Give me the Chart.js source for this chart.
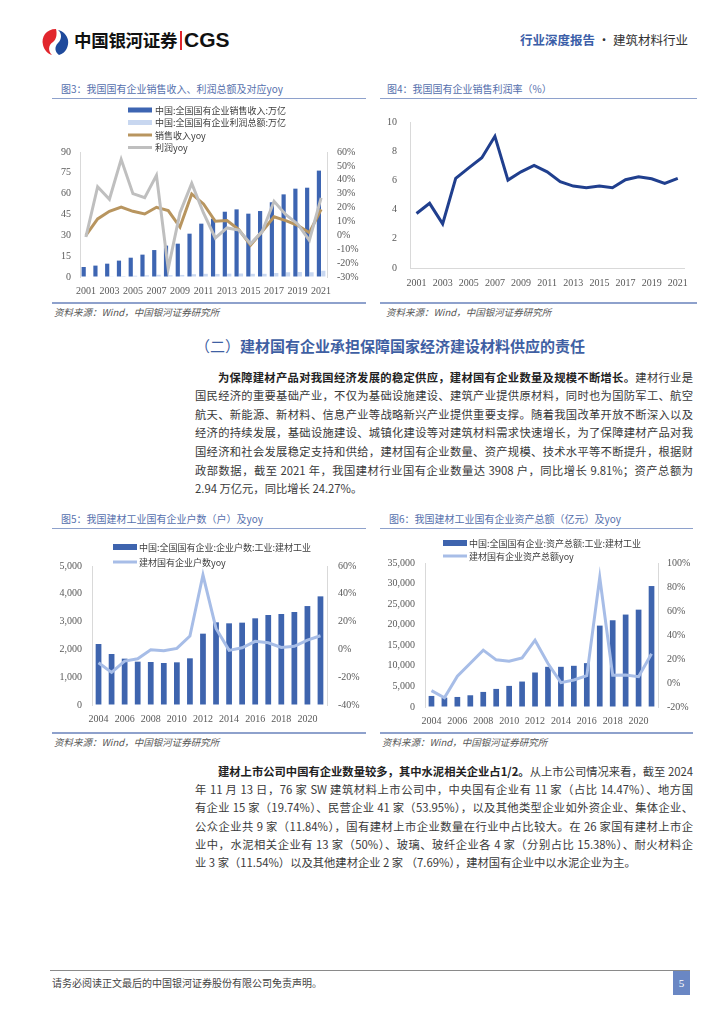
<!DOCTYPE html>
<html lang="zh-CN">
<head>
<meta charset="utf-8">
<script src="https://cdn.jsdelivr.net/npm/chart.js@4/dist/chart.umd.min.js"></script>
<style>
  html,body{margin:0;padding:0;background:#fff;}
  body{width:724px;height:1024px;position:relative;overflow:hidden;font-family:"Noto Sans CJK SC","Noto Sans",sans-serif;color:#333;}
  .abs{position:absolute;}
  .ptitle{position:absolute;font-size:10px;color:#5570ad;white-space:nowrap;line-height:12px;}
  .rule{position:absolute;background:#8ea1cc;}
  .src{position:absolute;font-size:9.5px;font-style:italic;color:#555;white-space:nowrap;line-height:12px;}
  .ln{position:absolute;left:195px;width:498px;font-size:11.3px;line-height:14px;text-align:justify;text-align-last:justify;color:#3a3a3a;}
  .ln.last{text-align-last:left;}
  .ln b{color:#222;font-weight:700;}
  canvas{position:absolute;}
</style>
</head>
<body>
<!-- header -->
<svg class="abs" style="left:40px;top:27px" width="30" height="30" viewBox="0 0 30 30">
  <path d="M16 2 C6 2 1 10 3 18 C4 23 8 27 12 28 C8 24 8 18 13 15 C17 12 17 6 16 2 Z" fill="#e1262d"/>
  <path d="M18 3 C22 6 22 12 18 16 C14 20 15 25 19 28 C26 26 29 19 28 13 C27 8 23 4 18 3 Z" fill="#1f4a9c"/>
</svg>
<div class="abs" style="left:74px;top:29px;font-size:17.5px;font-weight:700;color:#111;line-height:22px;letter-spacing:-0.3px;">中国银河证券</div>
<div class="abs" style="left:180px;top:31px;width:1.5px;height:19px;background:#e1262d;"></div>
<div class="abs" style="left:184px;top:28px;font-family:'Liberation Sans',Arial,sans-serif;font-size:21px;font-weight:700;color:#111;line-height:24px;">CGS</div>
<div class="abs" style="left:520px;top:32px;font-size:12.5px;line-height:16px;white-space:nowrap;"><span style="color:#3b5ea8;font-weight:700;">行业深度报告</span><span style="color:#333;"> · 建筑材料行业</span></div>

<!-- panel titles and rules (top row) -->
<div class="ptitle" style="left:61px;top:83px;">图3：我国国有企业销售收入、利润总额及对应yoy</div>
<div class="rule" style="left:52px;top:98px;width:314px;height:1px;"></div>
<div class="rule" style="left:52px;top:302px;width:314px;height:2px;"></div>
<div class="src" style="left:54px;top:306px;">资料来源：Wind，中国银河证券研究所</div>

<div class="ptitle" style="left:387px;top:83px;">图4：我国国有企业销售利润率（%）</div>
<div class="rule" style="left:380px;top:98px;width:317px;height:1px;"></div>
<div class="rule" style="left:380px;top:302px;width:317px;height:2px;"></div>
<div class="src" style="left:386px;top:306px;">资料来源：Wind，中国银河证券研究所</div>

<!-- section heading -->
<div class="abs" style="left:195px;top:336px;font-size:15px;line-height:20px;color:#3f5fa3;font-weight:700;white-space:nowrap;"><span style="font-weight:400;">（二）</span>建材国有企业承担保障国家经济建设材料供应的责任</div>

<!-- paragraph 1 -->
<div class="ln" style="top:370px;text-indent:23px;"><b>为保障建材产品对我国经济发展的稳定供应，建材国有企业数量及规模不断增长。</b>建材行业是</div>
<div class="ln" style="top:388px;">国民经济的重要基础产业，不仅为基础设施建设、建筑产业提供原材料，同时也为国防军工、航空</div>
<div class="ln" style="top:407px;">航天、新能源、新材料、信息产业等战略新兴产业提供重要支撑。随着我国改革开放不断深入以及</div>
<div class="ln" style="top:425px;">经济的持续发展，基础设施建设、城镇化建设等对建筑材料需求快速增长，为了保障建材产品对我</div>
<div class="ln" style="top:444px;">国经济和社会发展稳定支持和供给，建材国有企业数量、资产规模、技术水平等不断提升，根据财</div>
<div class="ln" style="top:463px;">政部数据，截至 2021 年，我国建材行业国有企业数量达 3908 户，同比增长 9.81%；资产总额为</div>
<div class="ln last" style="top:481px;">2.94 万亿元，同比增长 24.27%。</div>

<!-- panel titles bottom row -->
<div class="ptitle" style="left:61px;top:513px;">图5：我国建材工业国有企业户数（户）及yoy</div>
<div class="rule" style="left:52px;top:528px;width:314px;height:1px;"></div>
<div class="rule" style="left:52px;top:732px;width:314px;height:2px;"></div>
<div class="src" style="left:54px;top:736px;">资料来源：Wind，中国银河证券研究所</div>

<div class="ptitle" style="left:389px;top:513px;">图6：我国建材工业国有企业资产总额（亿元）及yoy</div>
<div class="rule" style="left:380px;top:528px;width:313px;height:1px;"></div>
<div class="rule" style="left:380px;top:732px;width:313px;height:2px;"></div>
<div class="src" style="left:382px;top:736px;">资料来源：Wind，中国银河证券研究所</div>

<!-- paragraph 2 -->
<div class="ln" style="top:764px;text-indent:23px;"><b>建材上市公司中国有企业数量较多，其中水泥相关企业占1/2。</b>从上市公司情况来看，截至 2024</div>
<div class="ln" style="top:782px;">年 11 月 13 日，76 家 SW 建筑材料上市公司中，中央国有企业有 11 家（占比 14.47%）、地方国</div>
<div class="ln" style="top:800px;">有企业 15 家（19.74%）、民营企业 41 家（53.95%），以及其他类型企业如外资企业、集体企业、</div>
<div class="ln" style="top:819px;">公众企业共 9 家（11.84%），国有建材上市企业数量在行业中占比较大。在 26 家国有建材上市企</div>
<div class="ln" style="top:837px;">业中，水泥相关企业有 13 家（50%）、玻璃、玻纤企业各 4 家（分别占比 15.38%）、耐火材料企</div>
<div class="ln last" style="top:855px;">业 3 家（11.54%）以及其他建材企业 2 家 （7.69%），建材国有企业中以水泥企业为主。</div>

<!-- footer -->
<div class="abs" style="left:50px;top:970px;width:640px;height:1px;background:#8a8a8a;"></div>
<div class="abs" style="left:52px;top:976px;font-size:10px;line-height:14px;color:#444;white-space:nowrap;">请务必阅读正文最后的中国银河证券股份有限公司免责声明。</div>
<div class="abs" style="left:673px;top:971px;width:17px;height:24px;background:#6a87c4;color:#fff;font-family:'Liberation Serif',serif;font-size:11px;line-height:24px;text-align:center;">5</div>

<canvas id="c3" width="318" height="200" style="left:50px;top:100px;"></canvas>
<canvas id="c4" width="315" height="200" style="left:382px;top:100px;"></canvas>
<canvas id="c5" width="318" height="200" style="left:50px;top:530px;"></canvas>
<canvas id="c6" width="319" height="200" style="left:378px;top:530px;"></canvas>

<script>
// ---------------- data ----------------
const years3 = ['2001','2002','2003','2004','2005','2006','2007','2008','2009','2010','2011','2012','2013','2014','2015','2016','2017','2018','2019','2020','2021'];
const salesRevenue = [7.2, 8.2, 9.6, 11.8, 13.9, 16.1, 19.4, 22.6, 24.0, 31.2, 38.4, 42.0, 47.0, 48.7, 45.6, 47.5, 53.8, 59.5, 63.6, 64.3, 76.6];
const totalProfit = [0.3, 0.4, 0.5, 0.7, 0.9, 1.2, 1.6, 1.3, 1.5, 2.0, 2.3, 2.2, 2.4, 2.5, 2.3, 2.3, 2.9, 3.4, 3.6, 3.4, 4.5];
const salesYoy = [0, 11.8, 17.3, 20.4, 17.3, 15.4, 20.2, 17.8, 6.0, 29.8, 22.6, 10.1, 10.6, 4.1, -7.0, 2.9, 13.4, 10.6, 7.2, 1.9, 18.7];
const profitYoy = [-1.2, 35.0, 26.0, 54.7, 30.0, 27.1, 43.2, -24.0, 16.3, 37.4, 16.1, -1.9, 5.3, 3.8, -6.0, 2.9, 24.5, 14.9, 8.2, -3.6, 26.9];
const profitMargin = [3.73, 4.43, 3.02, 6.14, 6.86, 7.55, 9.02, 6.02, 6.59, 7.02, 6.59, 5.91, 5.61, 5.50, 5.61, 5.50, 6.05, 6.25, 6.11, 5.80, 6.14];

const years5 = ['2004','2005','2006','2007','2008','2009','2010','2011','2012','2013','2014','2015','2016','2017','2018','2019','2020','2021'];
const soeCount = [2194, 1835, 1667, 1559, 1547, 1511, 1535, 1679, 2566, 2974, 2938, 2962, 3118, 3237, 3273, 3345, 3559, 3908];
const soeCountYoy = [-9.6, -16.5, -8.4, -6.7, -0.2, -1.0, 0.7, 9.6, 53.5, 15.1, -0.7, 1.2, 5.8, 4.8, 1.4, 2.2, 6.7, 9.8];
const soeAssets = [2686, 2279, 2442, 2849, 3663, 4396, 5128, 6186, 8384, 9768, 9768, 10012, 10663, 19780, 21083, 22466, 23660, 29400];
const soeAssetsYoy = [-6.4, -12.3, 5.6, 16.5, 27.4, 19.3, 18.1, 20.9, 35.7, 16.2, 0.3, 2.5, 6.1, 87.9, 6.4, 6.7, 5.3, 24.3];

// ---------------- helpers ----------------
const TICK_FONT = {family: "'Liberation Serif','DejaVu Serif',serif", size: 10};
const TICK_COLOR = '#595959';
const AXIS_COLOR = '#d9d9d9';
const thousands = v => String(v).replace(/\B(?=(\d{3})+(?!\d))/g, ',');
const everyOther = function(val, idx){ return idx % 2 === 0 ? this.getLabelForValue(val) : ''; };

const rowLegend = {
  id: 'rowLegend',
  afterDraw(chart, args, opts) {
    if (!opts || !opts.rows) return;
    const ctx = chart.ctx;
    ctx.save();
    ctx.font = opts.font;
    ctx.textBaseline = 'middle';
    ctx.textAlign = 'left';
    chart.data.datasets.forEach((ds, i) => {
      const y = opts.rows[i];
      if (ds.type === 'line') {
        ctx.strokeStyle = ds.borderColor;
        ctx.lineWidth = 3;
        ctx.beginPath();
        ctx.moveTo(opts.boxX, y);
        ctx.lineTo(opts.boxX + opts.boxW, y);
        ctx.stroke();
      } else {
        ctx.fillStyle = ds.backgroundColor;
        ctx.fillRect(opts.boxX, y - opts.boxH / 2, opts.boxW, opts.boxH);
      }
      ctx.fillStyle = '#404040';
      ctx.fillText(ds.label, opts.textX, y + 0.5);
    });
    ctx.restore();
  }
};
Chart.register(rowLegend);

function axisY(pos, min, max, step, width, pad, cb) {
  const t = {stepSize: step, padding: pad, font: TICK_FONT, color: TICK_COLOR, autoSkip: false};
  if (cb) t.callback = cb;
  return {
    position: pos, min: min, max: max,
    grid: {display: true, drawOnChartArea: false, drawTicks: false, color: 'rgba(0,0,0,0)'},
    border: {display: true, color: AXIS_COLOR, width: 1},
    ticks: t,
    afterFit(s){ s.width = width; }
  };
}
function axisX(height, pad, showBorder) {
  return {
    type: 'category', offset: true,
    grid: {display: true, drawOnChartArea: false, drawTicks: false, color: 'rgba(0,0,0,0)'},
    border: {display: showBorder, color: AXIS_COLOR, width: 1},
    ticks: {autoSkip: false, maxRotation: 0, minRotation: 0, padding: pad, font: TICK_FONT, color: TICK_COLOR, callback: everyOther},
    afterFit(s){ s.height = height; }
  };
}
const baseOpts = {
  responsive: false, animation: false, devicePixelRatio: 1,
  plugins: {legend: {display: false}, tooltip: {enabled: false}, title: {display: false}}
};
const LEG_FONT = "9px 'Noto Sans CJK SC', sans-serif";

// ---------------- chart 3 ----------------
new Chart(document.getElementById('c3'), {
  data: {
    labels: years3,
    datasets: [
      {type: 'bar', label: '中国:全国国有企业销售收入:万亿', data: salesRevenue, backgroundColor: '#3d65b2', yAxisID: 'y', order: 2, categoryPercentage: 0.75, barPercentage: 0.95},
      {type: 'bar', label: '中国:全国国有企业利润总额:万亿', data: totalProfit, backgroundColor: '#c8d7f0', yAxisID: 'y', order: 2, categoryPercentage: 0.75, barPercentage: 0.95},
      {type: 'line', label: '销售收入yoy', data: salesYoy, borderColor: '#b8955f', borderWidth: 3, pointRadius: 0, tension: 0, yAxisID: 'y1', order: 1},
      {type: 'line', label: '利润yoy', data: profitYoy, borderColor: '#bfbfbf', borderWidth: 3, pointRadius: 0, tension: 0, yAxisID: 'y1', order: 0}
    ]
  },
  options: Object.assign({}, baseOpts, {
    layout: {padding: {top: 52, left: 0, right: 0, bottom: 0}},
    plugins: Object.assign({}, baseOpts.plugins, {rowLegend: {rows: [10, 22.5, 35, 47.5], boxX: 78, boxW: 24, boxH: 5, textX: 105, font: LEG_FONT}}),
    scales: {
      x: axisX(23, 8, false),
      y: axisY('left', 0, 90, 15, 30, 9),
      y1: axisY('right', -30, 60, 10, 41, 10, v => v + '%')
    }
  })
});

// ---------------- chart 4 ----------------
new Chart(document.getElementById('c4'), {
  type: 'line',
  data: {
    labels: years3,
    datasets: [
      {label: '销售利润率', data: profitMargin, borderColor: '#203f8e', borderWidth: 3, pointRadius: 0, tension: 0}
    ]
  },
  options: Object.assign({}, baseOpts, {
    layout: {padding: {top: 22, left: 0, right: 10, bottom: 0}},
    scales: {
      x: axisX(32, 9, true),
      y: axisY('left', 0, 10, 2, 28, 13)
    }
  })
});

// ---------------- chart 5 ----------------
new Chart(document.getElementById('c5'), {
  data: {
    labels: years5,
    datasets: [
      {type: 'bar', label: '中国:全国国有企业:企业户数:工业:建材工业', data: soeCount, backgroundColor: '#3e64ae', yAxisID: 'y', order: 2, categoryPercentage: 0.8, barPercentage: 0.55},
      {type: 'line', label: '建材国有企业户数yoy', data: soeCountYoy, borderColor: '#a7bde7', borderWidth: 3, pointRadius: 0, tension: 0, yAxisID: 'y1', order: 1}
    ]
  },
  options: Object.assign({}, baseOpts, {
    layout: {padding: {top: 36, left: 0, right: 0, bottom: 0}},
    plugins: Object.assign({}, baseOpts.plugins, {rowLegend: {rows: [17, 32], boxX: 63, boxW: 24, boxH: 6, textX: 89, font: LEG_FONT}}),
    scales: {
      x: axisX(25, 8, false),
      y: axisY('left', 0, 5000, 1000, 42, 10, v => thousands(v)),
      y1: axisY('right', -40, 60, 20, 41, 11, v => v + '%')
    }
  })
});

// ---------------- chart 6 ----------------
new Chart(document.getElementById('c6'), {
  data: {
    labels: years5,
    datasets: [
      {type: 'bar', label: '中国:全国国有企业:资产总额:工业:建材工业', data: soeAssets, backgroundColor: '#3e64ae', yAxisID: 'y', order: 2, categoryPercentage: 0.8, barPercentage: 0.55},
      {type: 'line', label: '建材国有企业资产总额yoy', data: soeAssetsYoy, borderColor: '#a7bde7', borderWidth: 3, pointRadius: 0, tension: 0, yAxisID: 'y1', order: 1}
    ]
  },
  options: Object.assign({}, baseOpts, {
    layout: {padding: {top: 33, left: 0, right: 0, bottom: 0}},
    plugins: Object.assign({}, baseOpts.plugins, {rowLegend: {rows: [13, 26], boxX: 65, boxW: 24, boxH: 6, textX: 91, font: LEG_FONT}}),
    scales: {
      x: axisX(23, 8, false),
      y: axisY('left', 0, 35000, 5000, 47, 10, v => thousands(v)),
      y1: axisY('right', -20, 100, 20, 39, 9, v => v + '%')
    }
  })
});
</script>
</body>
</html>
